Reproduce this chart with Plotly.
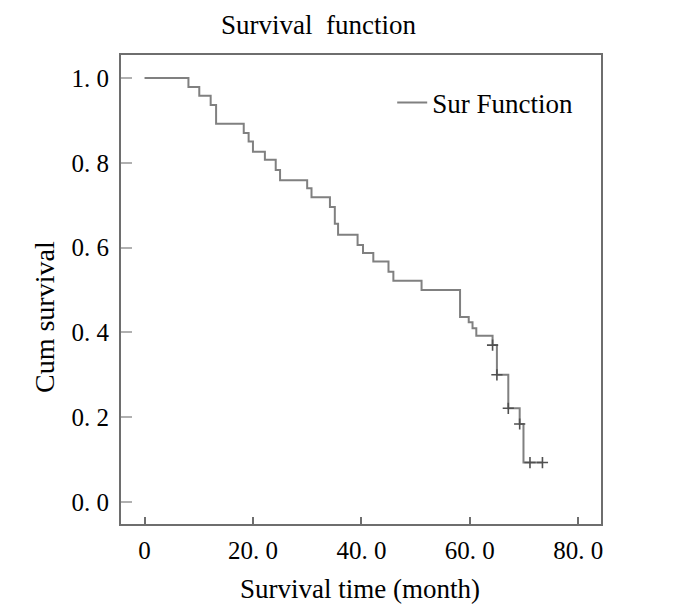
import plotly.graph_objects as go

# Kaplan-Meier step data (event times in months, survival after each event)
event_times = [0, 8.1, 10.1, 12.2, 13.2, 18.3, 19.2, 20.0, 22.2, 24.2, 25.0,
               30.0, 30.8, 34.2, 35.1, 35.7, 39.3, 40.3, 42.2, 45.0, 45.9,
               51.1, 58.2, 59.8, 60.5, 61.2, 64.2, 65.0, 67.1, 69.2, 69.9]
survival = [1.0, 0.979, 0.958, 0.936, 0.892, 0.870, 0.850, 0.826, 0.807, 0.783, 0.759,
            0.740, 0.719, 0.696, 0.656, 0.630, 0.606, 0.587, 0.567, 0.543, 0.522,
            0.500, 0.436, 0.424, 0.410, 0.392, 0.370, 0.300, 0.221, 0.184, 0.093]
last_time = 73.4

censor_times = [64.2, 65.0, 67.1, 69.2, 71.1, 73.4]
censor_surv = [0.370, 0.300, 0.221, 0.184, 0.093, 0.093]

x_ticks = [0, 20, 40, 60, 80]
x_tick_labels = ["0", "20. 0", "40. 0", "60. 0", "80. 0"]
y_ticks = [0.0, 0.2, 0.4, 0.6, 0.8, 1.0]
y_tick_labels = ["0. 0", "0. 2", "0. 4", "0. 6", "0. 8", "1. 0"]

FONT = "Liberation Serif"
LINE_COL = "#808080"

fig = go.Figure()
fig.add_trace(go.Scatter(
    x=event_times + [last_time], y=survival + [survival[-1]],
    mode="lines", line=dict(color=LINE_COL, width=2, shape="hv"),
    name="Sur Function", showlegend=True,
))
fig.add_trace(go.Scatter(
    x=censor_times, y=censor_surv, mode="markers",
    marker=dict(symbol="cross-thin", size=8, line=dict(color="#505050", width=1.6)),
    showlegend=False,
))

fig.update_layout(
    width=700, height=610,
    margin=dict(l=121, r=99, t=55, b=86),
    paper_bgcolor="white", plot_bgcolor="white",
    font=dict(family=FONT, size=24, color="black"),
    showlegend=True,
    legend=dict(x=0.565, y=0.898, xanchor="left", yanchor="middle",
                bgcolor="rgba(0,0,0,0)", font=dict(family=FONT, size=27),
                itemwidth=30),
    xaxis=dict(range=[-4.34, 84.2], tickvals=x_ticks, ticktext=x_tick_labels,
               showline=True, linecolor="#6e6e6e", linewidth=2, mirror=True,
               ticks="inside", ticklen=7, tickcolor="#6e6e6e", tickwidth=2,
               showgrid=False, zeroline=False, ticklabelstandoff=3,
               tickfont=dict(family=FONT, size=25)),
    yaxis=dict(range=[-0.0519, 1.0542], tickvals=y_ticks, ticktext=y_tick_labels,
               showline=True, linecolor="#6e6e6e", linewidth=2, mirror=True,
               ticks="inside", ticklen=11, tickcolor="#b0b0b0", tickwidth=2,
               showgrid=False, zeroline=False, ticklabelstandoff=5,
               tickfont=dict(family=FONT, size=25)),
    annotations=[
        dict(text="Survival\u00a0\u00a0function", x=318, y=25,
             showarrow=False, font=dict(family=FONT, size=27)),
        dict(text="Survival time (month)", x=360, y=589,
             showarrow=False, font=dict(family=FONT, size=27)),
        dict(text="Cum survival", x=44, y=317,
             showarrow=False, textangle=-90, font=dict(family=FONT, size=28)),
    ],
)

# convert pixel-placed annotations to paper coordinates
W, H = 700, 610
l, r, t, b = 121, 99, 55, 86
pw, ph = W - l - r, H - t - b
for a in fig.layout.annotations:
    a.x = (a.x - l) / pw
    a.y = (H - b - a.y) / ph
    a.xref = "paper"
    a.yref = "paper"
    a.xanchor = "center"
    a.yanchor = "middle"

fig.write_html("out.html", config={"displayModeBar": False},
               post_script="document.body.style.margin='0';document.body.style.padding='0';")
